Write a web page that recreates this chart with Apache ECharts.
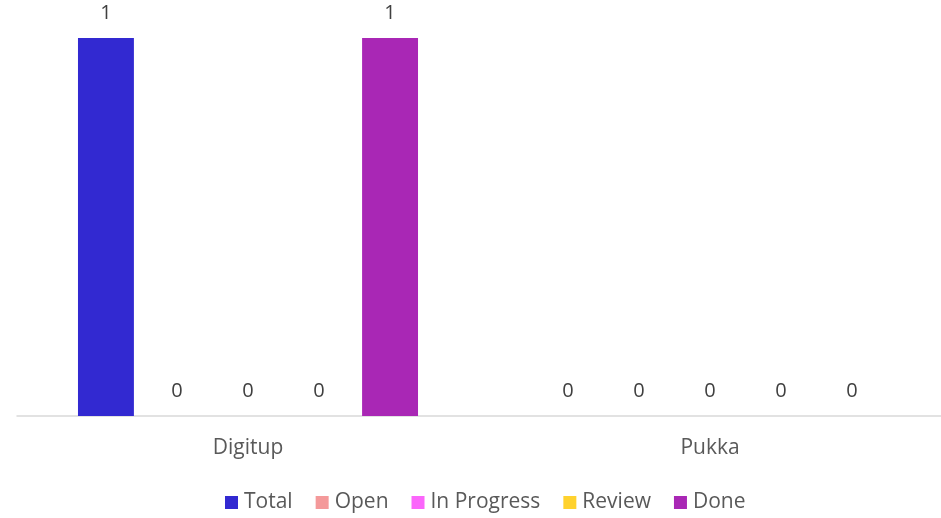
<!DOCTYPE html>
<html>
<head>
<meta charset="utf-8">
<script src="https://cdn.jsdelivr.net/npm/echarts@6/dist/echarts.min.js"></script>
<style>html,body{margin:0;padding:0;background:#fff}#c{width:941px;height:518px}</style>
</head>
<body>
<div id="c"></div>
<script>
var categories = ['Digitup', 'Pukka'];
var seriesNames = ['Total', 'Open', 'In Progress', 'Review', 'Done'];
var totalValues = [1, 0];
var openValues = [0, 0];
var inProgressValues = [0, 0];
var reviewValues = [0, 0];
var doneValues = [1, 0];

var colors = ['#3229D1', '#F4999A', '#FB66FB', '#FFD22E', '#A927B5'];
var allValues = [totalValues, openValues, inProgressValues, reviewValues, doneValues];
var FONT = '"Open Sans", sans-serif';

var chart = echarts.init(document.getElementById('c'));
chart.setOption({
  animation: false,
  textStyle: { fontFamily: FONT },
  grid: { left: 17, right: 0, top: 38, bottom: 102, containLabel: false },
  legend: {
    bottom: 0,
    left: 220,
    itemWidth: 13, itemHeight: 13, itemGap: 23,
    icon: 'rect',
    textStyle: { fontFamily: FONT, fontSize: 21, color: '#595959', padding: [0, 0, 0, 1] },
    data: seriesNames
  },
  xAxis: {
    type: 'category',
    data: categories,
    axisLine: { lineStyle: { color: '#D9D9D9', width: 1.5 } },
    axisTick: { show: false },
    axisLabel: { fontFamily: FONT, fontSize: 21, color: '#595959', margin: 22 }
  },
  yAxis: {
    type: 'value', min: 0, max: 1, show: false,
    splitLine: { show: false }
  },
  series: seriesNames.map(function (n, i) {
    return {
      name: n, type: 'bar', data: allValues[i],
      barGap: '27%', barCategoryGap: '26.4%',
      itemStyle: { color: colors[i] },
      label: { show: true, position: 'top', distance: 15, fontFamily: FONT, fontSize: 20, color: '#404040' }
    };
  })
});
</script>
</body>
</html>
